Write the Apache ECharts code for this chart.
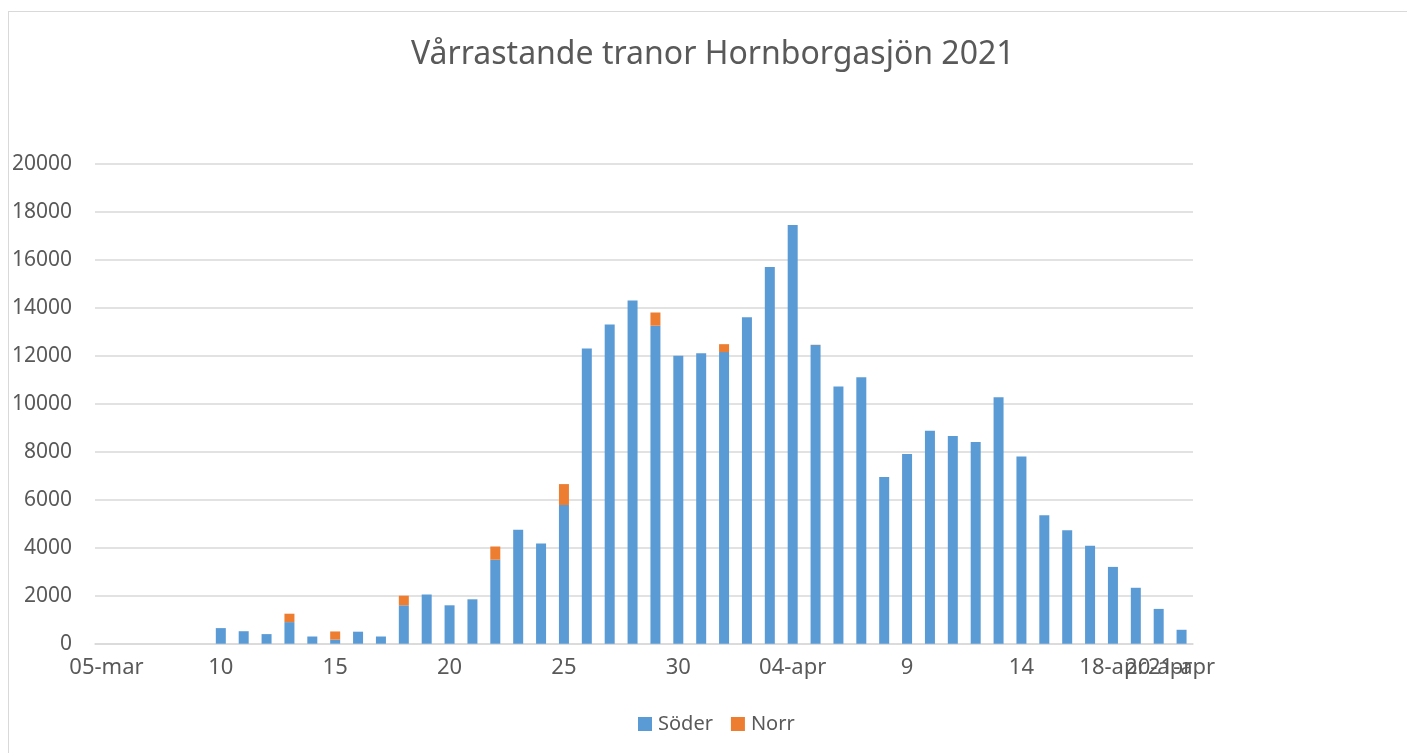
<!DOCTYPE html>
<html>
<head>
<meta charset="utf-8">
<title>Vårrastande tranor Hornborgasjön 2021</title>
<script src="https://cdn.jsdelivr.net/npm/echarts@6/dist/echarts.min.js"></script>
<style>
    html, body {
        margin: 0;
        padding: 0;
        background: #fff;
        overflow: hidden;
    }
    .frame {
        position: absolute;
        left: 8px;
        top: 11px;
        width: 1500px;
        height: 800px;
        border: 1px solid #d9d9d9;
    }
    #chart {
        position: absolute;
        left: 0;
        top: 0;
        width: 1407px;
        height: 753px;
    }
</style>
</head>
<body>
<div class="frame"></div>
<div id="chart"></div>
<script>
// dagar 5 mars - 21 april
const days = [
    '05-mar', '06-mar', '07-mar', '08-mar', '09-mar', '10-mar', '11-mar', '12-mar', '13-mar', '14-mar',
    '15-mar', '16-mar', '17-mar', '18-mar', '19-mar', '20-mar', '21-mar', '22-mar', '23-mar', '24-mar',
    '25-mar', '26-mar', '27-mar', '28-mar', '29-mar', '30-mar', '31-mar', '01-apr', '02-apr', '03-apr',
    '04-apr', '05-apr', '06-apr', '07-apr', '08-apr', '09-apr', '10-apr', '11-apr', '12-apr', '13-apr',
    '14-apr', '15-apr', '16-apr', '17-apr', '18-apr', '19-apr', '20-apr', '21-apr'
]

const soder = [
    0, 0, 0, 0, 0, 650, 520, 400, 900, 300,
    170, 500, 300, 1600, 2050, 1600, 1850, 3500, 4750, 4170,
    5780, 12300, 13300, 14300, 13250, 12000, 12100, 12150, 13600, 15700,
    17450, 12450, 10720, 11100, 6950, 7900, 8870, 8650, 8400, 10270,
    7800, 5350, 4730, 4080, 3200, 2330, 1450, 580
]

const norr = [
    0, 0, 0, 0, 0, 0, 0, 0, 350, 0,
    340, 0, 0, 400, 0, 0, 0, 550, 0, 0,
    870, 0, 0, 0, 550, 0, 0, 330, 0, 0,
    0, 10, 0, 0, 0, 0, 0, 0, 0, 0,
    0, 0, 0, 0, 0, 0, 0, 0
]

// axeltexter som i Excel-diagrammet
const tickIndex = [0, 5, 10, 15, 20, 25, 30, 35, 40, 44, 46, 47]
const tickText = ['05-mar', '10', '15', '20', '25', '30', '04-apr', '9', '14', '18-apr', '20-apr', '21-apr']

const yTicks = [0, 2000, 4000, 6000, 8000, 10000, 12000, 14000, 16000, 18000, 20000]

const textColor = '#595959'
const font = 'Noto Sans'

const myChart = echarts.init(document.getElementById('chart'))
myChart.setOption({
    animation: false,
    textStyle: { fontFamily: font },
    title: {
        text: 'Vårrastande tranor Hornborgasjön 2021',
        left: 406,
        top: 34,
        textStyle: { color: textColor, fontSize: 32, fontWeight: 'normal', fontFamily: font }
    },
    grid: {
        left: 95,
        right: 214,
        top: 163.7,
        bottom: 109.3,
        containLabel: false
    },
    legend: {
        bottom: 14,
        left: 633,
        icon: 'rect',
        itemWidth: 14,
        itemHeight: 14,
        itemGap: 18,
        textStyle: { color: textColor, fontSize: 20, fontFamily: font, padding: [0, 0, 0, 1] },
        data: ['Söder', 'Norr']
    },
    xAxis: {
        type: 'category',
        data: days,
        axisLine: { lineStyle: { color: '#d9d9d9', width: 1.5 } },
        axisTick: { show: false },
        axisLabel: {
            color: textColor,
            fontSize: 22,
            margin: 13,
            interval: 0,
            hideOverlap: false,
            formatter: function (val, idx) {
                const i = tickIndex.indexOf(idx)
                return i >= 0 ? tickText[i] : ''
            }
        }
    },
    yAxis: {
        type: 'value',
        min: yTicks[0],
        max: yTicks[yTicks.length - 1],
        interval: 2000,
        axisLine: { show: false },
        axisTick: { show: false },
        axisLabel: {
            color: textColor,
            fontSize: 21,
            margin: 23,
            formatter: function (v) { return String(v) }
        },
        splitLine: { lineStyle: { color: '#d9d9d9', width: 1.5 } }
    },
    series: [{
        name: 'Söder',
        type: 'bar',
        stack: 'tot',
        barWidth: 10,
        data: soder,
        itemStyle: { color: '#5B9BD5' }
    }, {
        name: 'Norr',
        type: 'bar',
        stack: 'tot',
        barWidth: 10,
        data: norr,
        itemStyle: { color: '#ED7D31' }
    }]
})
</script>
</body>
</html>
